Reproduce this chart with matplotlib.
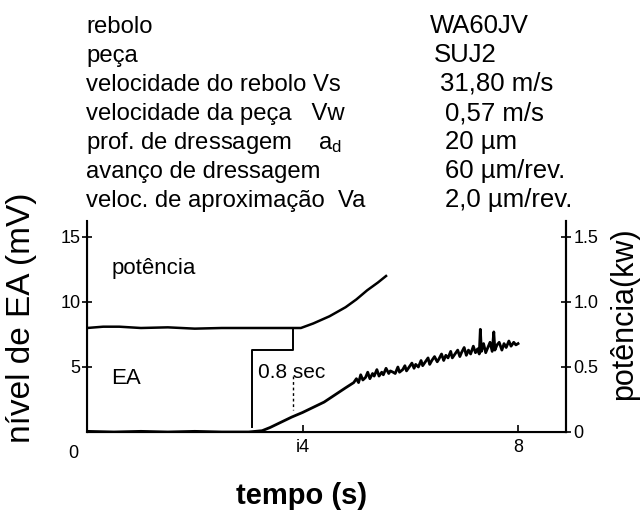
import matplotlib
matplotlib.use("Agg")
import matplotlib.pyplot as plt

plt.rcParams['font.family'] = ['Liberation Sans', 'DejaVu Sans']
plt.rcParams['mathtext.fontset'] = 'custom'
plt.rcParams['mathtext.rm'] = 'Liberation Sans'
plt.rcParams['mathtext.it'] = 'Liberation Sans'

# ---- data ----
param_names = ["rebolo", "peça", "velocidade do rebolo Vs", "velocidade da peça   Vw",
               "prof. de dressagem    a$_{\\mathrm{d}}$", "avanço de dressagem",
               "veloc. de aproximação  Va"]
param_values = ["WA60JV", "SUJ2", "31,80 m/s", "0,57 m/s", "20 µm", "60 µm/rev.", "2,0 µm/rev."]

power_t = [0.0, 0.3, 0.6, 1.0, 1.5, 2.0, 2.5, 3.0, 3.5, 3.97, 4.2, 4.5, 4.8, 5.0, 5.2, 5.4, 5.55]
power_v = [8.0, 8.1, 8.1, 8.0, 8.05, 7.95, 8.0, 8.0, 8.0, 8.0, 8.35, 8.9, 9.6, 10.2, 10.9, 11.5, 12.0]

ea_t = [0.0, 0.5, 1.0, 1.5, 2.0, 2.5, 3.0, 3.25, 3.4, 3.6, 3.8, 4.0, 4.2, 4.4, 4.6, 4.8,
        4.95, 5.00, 5.04, 5.08, 5.12, 5.17, 5.21, 5.25, 5.30, 5.33, 5.38, 5.42, 5.47, 5.50,
        5.55, 5.60, 5.63, 5.68, 5.72, 5.77, 5.80, 5.86, 5.90, 5.93, 5.98, 6.03, 6.07, 6.10,
        6.15, 6.20, 6.23, 6.28, 6.33, 6.36, 6.40, 6.45, 6.50, 6.53, 6.58, 6.62, 6.66, 6.70,
        6.75, 6.78, 6.83, 6.88, 6.92, 6.95, 7.00, 7.04, 7.08, 7.12, 7.17, 7.21, 7.25, 7.28,
        7.30, 7.32, 7.36, 7.40, 7.44, 7.48, 7.52, 7.55, 7.57, 7.61, 7.65, 7.70, 7.74, 7.78,
        7.83, 7.87, 7.92, 7.96, 8.00]
ea_v = [0.05, 0.0, 0.05, 0.0, 0.05, 0.0, 0.0, 0.1, 0.35, 0.75, 1.15, 1.5, 1.9, 2.3, 2.85, 3.4,
        3.8, 4.1, 3.8, 4.4, 4.0, 4.2, 4.6, 4.1, 4.5, 4.3, 4.8, 4.3, 4.6, 4.4,
        4.9, 4.5, 4.7, 4.6, 4.5, 5.0, 4.6, 4.8, 5.1, 4.7, 5.0, 5.3, 4.9, 5.2,
        5.0, 5.5, 5.1, 5.4, 5.7, 5.2, 5.5, 5.8, 5.4, 5.6, 6.0, 5.5, 5.9, 5.7,
        6.2, 5.7, 6.0, 6.3, 5.8, 6.1, 6.5, 5.9, 6.3, 6.0, 6.6, 6.1, 6.4, 6.0,
        7.9, 6.2, 6.8, 6.1, 6.5, 6.9, 6.2, 7.7, 6.3, 6.7, 6.9, 6.3, 6.8, 6.5,
        7.0, 6.6, 6.9, 6.7, 6.8]

# bracket marking the 0.8 s delay
bracket_t = [3.07, 3.07, 3.82, 3.82]
bracket_v = [0.4, 6.3, 6.3, 8.0]
dotted_t = [3.82, 3.82]
dotted_v = [4.3, 1.7]

left_ticks = [5, 10, 15]
left_labels = ["5", "10", "15"]
right_ticks = [0, 0.5, 1.0, 1.5]
right_labels = ["0", "0.5", "1.0", "1.5"]
x_ticks = [4, 8]
x_labels = ["i4", "8"]

W, H = 640, 513
fig = plt.figure(figsize=(6.4, 5.13), dpi=100)
ax = fig.add_axes([87 / W, 1 - 432 / H, (566 - 87) / W, (432 - 221) / H])
ax.set_xlim(0, 8.89)
ax.set_ylim(0, 16.23)

ax.plot(power_t, power_v, color='black', lw=1.8)
ax.plot(ea_t, ea_v, color='black', lw=2.0)
ax.plot(bracket_t, bracket_v, color='black', lw=1.4)
ax.plot(dotted_t, dotted_v, color='black', lw=1.0, ls=(0, (2, 2)))

ax.text(0.45, 12.6, "potência", fontsize=16, va='center', ha='left')
ax.text(0.45, 4.15, "EA", fontsize=16, va='center', ha='left')
ax.text(3.18, 4.6, "0.8 sec", fontsize=15, va='center', ha='left')

ax.spines['top'].set_visible(False)
for s in ['left', 'right', 'bottom']:
    ax.spines[s].set_linewidth(1.5)

ax.set_yticks(left_ticks)
ax.set_yticklabels(left_labels)
ax.set_xticks(x_ticks)
ax.set_xticklabels(x_labels)
ax.tick_params(axis='y', direction='inout', length=7, width=1.2, labelsize=13, pad=1)
ax.tick_params(axis='x', direction='in', length=5, width=1.2, labelsize=13, pad=5)
ax.annotate("0", xy=(0, 0), xytext=(-10, -9), textcoords='offset points',
            fontsize=13, ha='center', va='top')

ax2 = ax.twinx()
ax2.set_ylim(0, 1.623)
ax2.spines['top'].set_visible(False)
ax2.spines['right'].set_linewidth(1.5)
ax2.set_yticks(right_ticks)
ax2.set_yticklabels(right_labels)
ax2.tick_params(axis='y', direction='inout', length=7, width=1.2, labelsize=13, pad=2)

# axis titles
fig.text(22 / W, 1 - 318 / H, "nível de EA (mV)", rotation=90, fontsize=24,
         ha='center', va='center')
fig.text(624 / W, 1 - 314 / H, "potência(kw)", rotation=90, fontsize=22,
         ha='center', va='center')
fig.text(302 / W, 1 - 496 / H, "tempo (s)", fontsize=21, fontweight='bold',
         ha='center', va='center')

# header parameter table
value_x = [430, 434, 440, 445, 445, 445, 445]
for i, (n, v) in enumerate(zip(param_names, param_values)):
    yb = 1 - (33 + 29 * i) / H
    fig.text(86 / W, yb, n, fontsize=17.2, ha='left', va='baseline')
    fig.text(value_x[i] / W, yb, v, fontsize=18.5, ha='left', va='baseline')

fig.savefig("out.png", dpi=100)
